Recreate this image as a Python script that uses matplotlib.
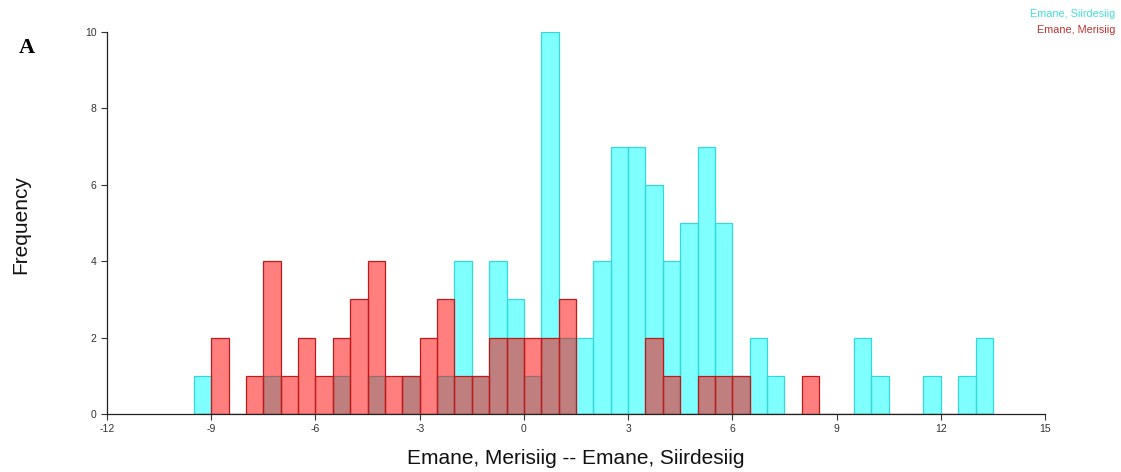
import matplotlib
matplotlib.use("Agg")
import matplotlib.pyplot as plt
import numpy as np

plt.rcParams['font.family'] = ['Liberation Sans', 'DejaVu Sans']
plt.rcParams['axes.unicode_minus'] = False

# Bin left edges (bin width 0.5)
bin_lefts = [-9.5, -9.0, -8.5, -8.0, -7.5, -7.0, -6.5, -6.0, -5.5, -5.0, -4.5, -4.0,
             -3.5, -3.0, -2.5, -2.0, -1.5, -1.0, -0.5, 0.0, 0.5, 1.0, 1.5, 2.0,
             2.5, 3.0, 3.5, 4.0, 4.5, 5.0, 5.5, 6.0, 6.5, 7.0, 7.5, 8.0,
             8.5, 9.0, 9.5, 10.0, 10.5, 11.0, 11.5, 12.0, 12.5, 13.0]
bin_width = 0.5

siirdesiig_counts = [1, 0, 0, 0, 1, 0, 0, 0, 1, 0, 1, 0,
                     1, 0, 1, 4, 1, 4, 3, 1, 10, 2, 2, 4,
                     7, 7, 6, 4, 5, 7, 5, 1, 2, 1, 0, 0,
                     0, 0, 2, 1, 0, 0, 1, 0, 1, 2]

merisiig_counts = [0, 2, 0, 1, 4, 1, 2, 1, 2, 3, 4, 1,
                   1, 2, 3, 1, 1, 2, 2, 2, 2, 3, 0, 0,
                   0, 0, 2, 1, 0, 1, 1, 1, 0, 0, 0, 1,
                   0, 0, 0, 0, 0, 0, 0, 0, 0, 0]

x_ticks = [-12, -9, -6, -3, 0, 3, 6, 9, 12, 15]
y_ticks = [0, 2, 4, 6, 8, 10]

fig = plt.figure(figsize=(11.21, 4.72), dpi=100)
ax = fig.add_axes([107/1121, 58/472, 938/1121, 382/472])

ax.bar(bin_lefts, siirdesiig_counts, width=bin_width, align='edge',
       facecolor=(0, 1, 1, 0.5), edgecolor=(0.2, 0.85, 0.85, 1.0), linewidth=0.9)
ax.bar(bin_lefts, merisiig_counts, width=bin_width, align='edge',
       facecolor=(1, 0, 0, 0.5), edgecolor=(0.75, 0.1, 0.1, 1.0), linewidth=0.9)

ax.set_xlim(-12, 15)
ax.set_ylim(0, 10)
ax.set_xticks(x_ticks)
ax.set_yticks(y_ticks)
ax.tick_params(axis='both', labelsize=7.5, length=4, width=0.8, color='#333333', labelcolor='#333333')

for s in ['top', 'right']:
    ax.spines[s].set_visible(False)
for s in ['left', 'bottom']:
    ax.spines[s].set_color('#222222')
    ax.spines[s].set_linewidth(0.9)

ax.set_xlabel("Emane, Merisiig -- Emane, Siirdesiig", fontsize=15, color='#111111')
ax.xaxis.set_label_coords(0.5, -0.092)
ax.set_ylabel("Frequency", fontsize=15, color='#111111')
ax.yaxis.set_label_coords(-0.082, 0.497)

fig.text(19/1121, 1 - 48/472, "A", fontsize=16, fontweight='bold',
         family=['Liberation Serif', 'DejaVu Serif'], va='center', ha='left')

fig.text(1115/1121, 1 - 14/472, "Emane, Siirdesiig", fontsize=7.8, color='#40E0E0',
         ha='right', va='center')
fig.text(1115/1121, 1 - 30/472, "Emane, Merisiig", fontsize=7.8, color='#C03030',
         ha='right', va='center')

fig.savefig("out.png", dpi=100)
